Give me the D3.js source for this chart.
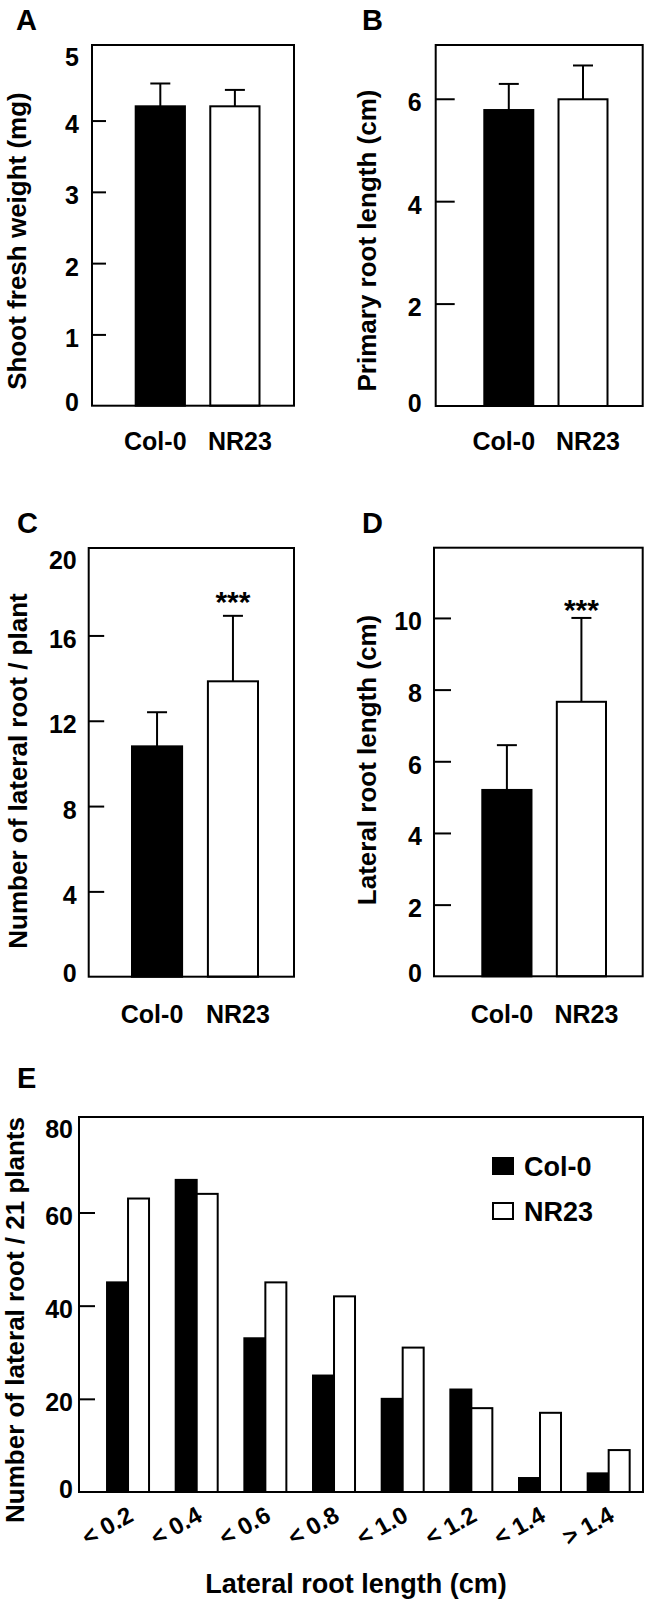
<!DOCTYPE html>
<html>
<head>
<meta charset="utf-8">
<script src="https://cdn.jsdelivr.net/npm/d3@7"></script>
<style>
  html, body { margin: 0; padding: 0; background: #fff; }
  svg { display: block; }
  text { font-family: "Liberation Sans", Arial, Helvetica, sans-serif; font-weight: bold; fill: #000; }
</style>
</head>
<body>
<script>
// ---------- DATA ----------
const genotypes = ["Col-0", "NR23"];

const shootWeight = [4.2, 4.2];
const shootWeightErr = [0.32, 0.23];

const primaryRoot = [5.78, 5.99];
const primaryRootErr = [0.51, 0.66];

const lateralNumber = [10.8, 13.85];
const lateralNumberErr = [1.6, 3.07];

const lateralLength = [5.2, 7.66];
const lateralLengthErr = [1.25, 2.34];

const significance = ["", "***"];

const lengthBins = ["< 0.2", "< 0.4", "< 0.6", "< 0.8", "< 1.0", "< 1.2", "< 1.4", "> 1.4"];
const col0Counts = [45, 67, 33, 25, 20, 22, 3, 4];
const nr23Counts = [63, 64, 45, 42, 31, 18, 17, 9];

const ticksA = [0, 1, 2, 3, 4, 5];
const ticksB = [0, 2, 4, 6];
const ticksC = [0, 4, 8, 12, 16, 20];
const ticksD = [0, 2, 4, 6, 8, 10];
const ticksE = [0, 20, 40, 60, 80];

// ---------- LAYOUT ----------
const W = 645, H = 1605;
const svg = d3.select("body").append("svg").attr("width", W).attr("height", H);
svg.append("rect").attr("width", W).attr("height", H).attr("fill", "#fff");

const fillFor = i => i === 0 ? "#000" : "#fff";

function yAxis(g, y, ticks, frame, tickLen, pad, fontSize) {
  const axis = d3.axisLeft(y).tickValues(ticks).tickSize(-tickLen).tickPadding(pad)
    .tickFormat(d3.format("d"));
  const ag = g.append("g").attr("transform", `translate(${frame.x0},0)`).call(axis);
  ag.select(".domain").remove();
  ag.selectAll(".tick line")
    .attr("stroke", "#000").attr("stroke-width", 2)
    .attr("display", d => (y(d) - frame.y0 < 8 || frame.y1 - y(d) < 4) ? "none" : null);
  ag.selectAll(".tick text")
    .attr("fill", "#000")
    .style("font-size", fontSize + "px")
    .style("font-family", '"Liberation Sans", Arial, sans-serif')
    .style("font-weight", "bold")
    .attr("y", d => {
      const yy = y(d);
      const c = Math.max(Math.min(yy + 3, frame.y1 - 4), frame.y0 + 11);
      return c - yy + 1;
    });
}

function barPanel(cfg) {
  const g = svg.append("g");
  const f = cfg.frame;
  const y = d3.scaleLinear().domain([0, cfg.yMax]).range([f.y1, f.y0]);
  const x = d3.scaleBand().domain(genotypes).range(cfg.barRange).paddingInner(0.34).paddingOuter(0);

  // error bars (upward only)
  const eb = g.selectAll(".eb").data(genotypes).enter().append("g");
  eb.append("line")
    .attr("x1", d => x(d) + x.bandwidth() / 2).attr("x2", d => x(d) + x.bandwidth() / 2)
    .attr("y1", (d, i) => y(cfg.values[i])).attr("y2", (d, i) => y(cfg.values[i] + cfg.errors[i]))
    .attr("stroke", "#000").attr("stroke-width", 2);
  eb.append("line")
    .attr("x1", d => x(d) + x.bandwidth() / 2 - 10).attr("x2", d => x(d) + x.bandwidth() / 2 + 10)
    .attr("y1", (d, i) => y(cfg.values[i] + cfg.errors[i])).attr("y2", (d, i) => y(cfg.values[i] + cfg.errors[i]))
    .attr("stroke", "#000").attr("stroke-width", 2);

  // bars
  g.selectAll(".bar").data(genotypes).enter().append("rect")
    .attr("x", d => x(d)).attr("width", x.bandwidth())
    .attr("y", (d, i) => y(cfg.values[i])).attr("height", (d, i) => y(0) - y(cfg.values[i]))
    .attr("fill", (d, i) => fillFor(i)).attr("stroke", "#000").attr("stroke-width", 2);

  // significance
  if (cfg.sig) {
    g.selectAll(".sig").data(genotypes).enter().append("text")
      .attr("x", d => x(d) + x.bandwidth() / 2)
      .attr("y", (d, i) => y(cfg.values[i] + cfg.errors[i]) - cfg.sigGap)
      .attr("text-anchor", "middle").style("font-size", "30px").style("font-weight", "bold")
      .text((d, i) => cfg.sig[i]);
  }

  // frame
  g.append("rect").attr("x", f.x0).attr("y", f.y0).attr("width", f.x1 - f.x0).attr("height", f.y1 - f.y0)
    .attr("fill", "none").attr("stroke", "#000").attr("stroke-width", 2);

  yAxis(g, y, cfg.ticks, f, cfg.tickLen, cfg.labelPad, 25);

  // category labels
  g.selectAll(".cat").data(genotypes).enter().append("text")
    .attr("x", (d, i) => x(d) + x.bandwidth() / 2 + (i === 0 ? -5 : 5))
    .attr("y", cfg.catY).attr("text-anchor", "middle").style("font-size", "25px")
    .text(d => d);

  // y title
  g.append("text")
    .attr("transform", `translate(${cfg.titleX},${cfg.titleY}) rotate(-90)`)
    .attr("text-anchor", "middle").attr("dy", "0.36em").style("font-size", "26px")
    .text(cfg.title);

  // panel letter
  g.append("text").attr("x", cfg.letterX).attr("y", cfg.letterY).style("font-size", "29px").text(cfg.letter);
}

barPanel({
  letter: "A", letterX: 16, letterY: 30,
  frame: { x0: 92, x1: 294, y0: 45, y1: 405.7 }, yMax: 5.06,
  barRange: [135.7, 259.5], values: shootWeight, errors: shootWeightErr,
  ticks: ticksA, tickLen: 14, labelPad: 13, catY: 450,
  title: "Shoot fresh weight (mg)", titleX: 17, titleY: 241
});
barPanel({
  letter: "B", letterX: 362, letterY: 30,
  frame: { x0: 435.7, x1: 642.7, y0: 45, y1: 406 }, yMax: 7.05,
  barRange: [484.3, 607.5], values: primaryRoot, errors: primaryRootErr,
  ticks: ticksB, tickLen: 19, labelPad: 14, catY: 450,
  title: "Primary root length (cm)", titleX: 366.7, titleY: 240.5
});
barPanel({
  letter: "C", letterX: 17, letterY: 533,
  frame: { x0: 88.7, x1: 294, y0: 548, y1: 976.7 }, yMax: 20.1,
  barRange: [132, 258], values: lateralNumber, errors: lateralNumberErr,
  ticks: ticksC, tickLen: 15.5, labelPad: 12, catY: 1023,
  sig: significance, sigGap: 4,
  title: "Number of lateral root / plant", titleX: 17.5, titleY: 771
});
barPanel({
  letter: "D", letterX: 362, letterY: 533,
  frame: { x0: 434, x1: 642.7, y0: 547.7, y1: 976.3 }, yMax: 11.96,
  barRange: [482.3, 606], values: lateralLength, errors: lateralLengthErr,
  ticks: ticksD, tickLen: 17, labelPad: 12, catY: 1023,
  sig: significance, sigGap: -2,
  title: "Lateral root length (cm)", titleX: 366.7, titleY: 760
});

// ---------- PANEL E ----------
(function () {
  const f = { x0: 79, x1: 643, y0: 1117, y1: 1492 };
  const g = svg.append("g");
  const y = d3.scaleLinear().domain([0, 80.5]).range([f.y1, f.y0]);
  const x0 = d3.scaleBand().domain(lengthBins).range([93.7, 643]).padding(0);
  const x1 = d3.scaleBand().domain(genotypes).range([0, 42]);
  const off = (x0.bandwidth() - 42) / 2;
  const series = [col0Counts, nr23Counts];

  const grp = g.selectAll(".grp").data(lengthBins).enter().append("g")
    .attr("transform", d => `translate(${x0(d) + off},0)`);
  grp.selectAll("rect").data((d, i) => genotypes.map((gname, k) => ({ gname, k, v: series[k][i] })))
    .enter().append("rect")
    .attr("x", d => x1(d.gname)).attr("width", x1.bandwidth())
    .attr("y", d => y(d.v)).attr("height", d => y(0) - y(d.v))
    .attr("fill", d => fillFor(d.k)).attr("stroke", "#000").attr("stroke-width", 2);

  g.append("rect").attr("x", f.x0).attr("y", f.y0).attr("width", f.x1 - f.x0).attr("height", f.y1 - f.y0)
    .attr("fill", "none").attr("stroke", "#000").attr("stroke-width", 2);

  yAxis(g, y, ticksE, f, 16, 6, 25);

  // rotated category labels
  g.selectAll(".bin").data(lengthBins).enter().append("text")
    .attr("transform", d => `translate(${x0(d) + x0.bandwidth() / 2 + 7},${1520}) rotate(-29)`)
    .attr("text-anchor", "end").style("font-size", "24px")
    .text(d => d);

  // x title
  g.append("text").attr("x", 356).attr("y", 1593).attr("text-anchor", "middle")
    .style("font-size", "27px").text("Lateral root length (cm)");

  // y title
  g.append("text")
    .attr("transform", `translate(15,1320) rotate(-90)`)
    .attr("text-anchor", "middle").attr("dy", "0.36em").style("font-size", "26px")
    .text("Number of lateral root / 21 plants");

  // legend
  const lg = g.append("g");
  const ly = [1166, 1211];
  genotypes.forEach((name, i) => {
    lg.append("rect").attr("x", 493).attr("y", ly[i] - 8).attr("width", 20).attr("height", 16)
      .attr("fill", fillFor(i)).attr("stroke", "#000").attr("stroke-width", 2);
    lg.append("text").attr("x", 524).attr("y", ly[i]).attr("dy", "0.36em")
      .style("font-size", "27px").text(name);
  });

  g.append("text").attr("x", 17).attr("y", 1088).style("font-size", "29px").text("E");
})();
</script>
</body>
</html>
